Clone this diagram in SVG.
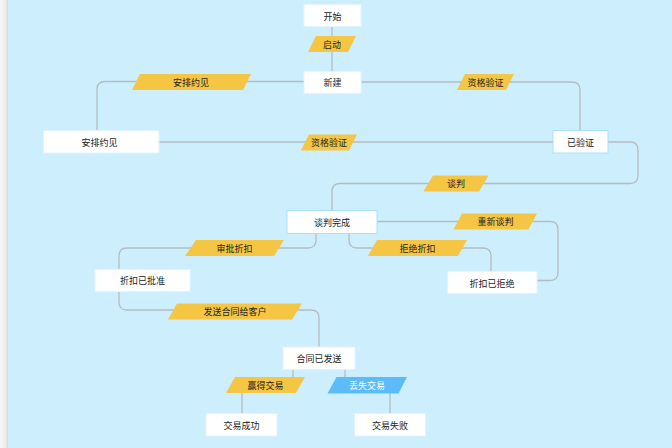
<svg xmlns="http://www.w3.org/2000/svg" width="672" height="448" viewBox="0 0 672 448">
<defs>
<linearGradient id="side" x1="0" y1="0" x2="1" y2="0">
<stop offset="0" stop-color="#f7f7f7"/>
<stop offset="0.7" stop-color="#ececec"/>
<stop offset="1" stop-color="#d8d8d8"/>
</linearGradient>
<style>
.n rect{fill:#ffffff;stroke:#e4f3fb;stroke-width:1}
.n.hl rect{stroke:#a9e2f7}
text{font-family:"Noto Sans CJK SC","Liberation Sans",sans-serif;font-size:9px;fill:#222;text-anchor:middle;dominant-baseline:central}
.e path{fill:none;stroke:#b5bcc3;stroke-width:1.3}
.l polygon{fill:#f4c644}
.l.lost polygon{fill:#5cbcf9}
.l.lost text{fill:#ffffff}
</style>
</defs>
<rect x="0" y="0" width="672" height="448" fill="#cdeefd"/>
<rect x="0" y="0" width="8" height="448" fill="url(#side)"/>

<g id="connectors" class="e">
<path d="M332 27 V71"/>
<path d="M304 81.5 H105 Q97 81.5 97 89.5 V130.5"/>
<path d="M361 82 H572 Q580 82 580 90 V130.5"/>
<path d="M159 142 H553"/>
<path d="M608 142 H630 Q638 142 638 150 V175.5 Q638 183.5 630 183.5 H340 Q332 183.5 332 191.5 V210"/>
<path d="M377 221.5 H550 Q558 221.5 558 229.5 V272.5 Q558 280.5 550 280.5 H537"/>
<path d="M349 233 V240 Q349 248 357 248 H483 Q491 248 491 256 V271"/>
<path d="M316 233 V240 Q316 248 308 248 H127 Q119 248 119 256 V269"/>
<path d="M119 291 V302 Q119 310 127 310 H311 Q319 310 319 318 V347"/>
<path d="M293 369.5 V385 H242 V413.5"/>
<path d="M345 369.5 V385 H390 V413.5"/>
</g>

<g id="start" class="n"><rect x="304" y="4.5" width="57" height="22"/><text x="332.5" y="16">开始</text></g>
<g id="new" class="n"><rect x="304" y="71.5" width="57" height="22"/><text x="332.5" y="82.5">新建</text></g>
<g id="meeting" class="n"><rect x="43.5" y="130.5" width="115.5" height="22.5"/><text x="99.5" y="142">安排约见</text></g>
<g id="verified" class="n hl"><rect x="553" y="130.5" width="55" height="22.5"/><text x="580.5" y="142">已验证</text></g>
<g id="negotiated" class="n hl"><rect x="287" y="210.5" width="90" height="23"/><text x="332" y="222">谈判完成</text></g>
<g id="approved" class="n"><rect x="95" y="269.5" width="95" height="22"/><text x="142.5" y="280.5">折扣已批准</text></g>
<g id="rejected" class="n"><rect x="447.5" y="271.5" width="89.5" height="22"/><text x="492" y="283">折扣已拒绝</text></g>
<g id="sent" class="n"><rect x="283" y="347" width="72" height="22.5"/><text x="319" y="358.5">合同已发送</text></g>
<g id="won" class="n"><rect x="206" y="413.5" width="71" height="22.5"/><text x="241.5" y="425">交易成功</text></g>
<g id="lost" class="n"><rect x="354.5" y="413.5" width="71" height="22.5"/><text x="390" y="425">交易失败</text></g>

<g id="lbl-start" class="l"><polygon points="316,36 356,36 348,52 308,52"/><text x="332" y="44">启动</text></g>
<g id="lbl-meeting" class="l"><polygon points="140,74 251,74 243,90 132,90"/><text x="191" y="82">安排约见</text></g>
<g id="lbl-qual1" class="l"><polygon points="465,74 514,74 506,90 457,90"/><text x="485.5" y="82">资格验证</text></g>
<g id="lbl-qual2" class="l"><polygon points="309,134.5 357,134.5 349,150.5 301,150.5"/><text x="329" y="142.5">资格验证</text></g>
<g id="lbl-neg" class="l"><polygon points="433,175.5 488.5,175.5 479,191.5 423.5,191.5"/><text x="456" y="183.5">谈判</text></g>
<g id="lbl-reneg" class="l"><polygon points="462,213.5 537,213.5 528.5,229.5 453.5,229.5"/><text x="495.5" y="221.5">重新谈判</text></g>
<g id="lbl-reject" class="l"><polygon points="377,240 467,240 458,256 368,256"/><text x="417.5" y="248">拒绝折扣</text></g>
<g id="lbl-approve" class="l"><polygon points="196,240 284,240 274,256 185,256"/><text x="234.5" y="248">审批折扣</text></g>
<g id="lbl-send" class="l"><polygon points="177,303.5 302,303.5 292,319.5 168,319.5"/><text x="235" y="311.5">发送合同给客户</text></g>
<g id="lbl-win" class="l"><polygon points="235,377 305,377 296,393 226,393"/><text x="265.5" y="385">赢得交易</text></g>
<g id="lbl-lose" class="l lost"><polygon points="336.5,377 407,377 398.5,393.5 327.5,393.5"/><text x="367" y="385">丢失交易</text></g>
</svg>
